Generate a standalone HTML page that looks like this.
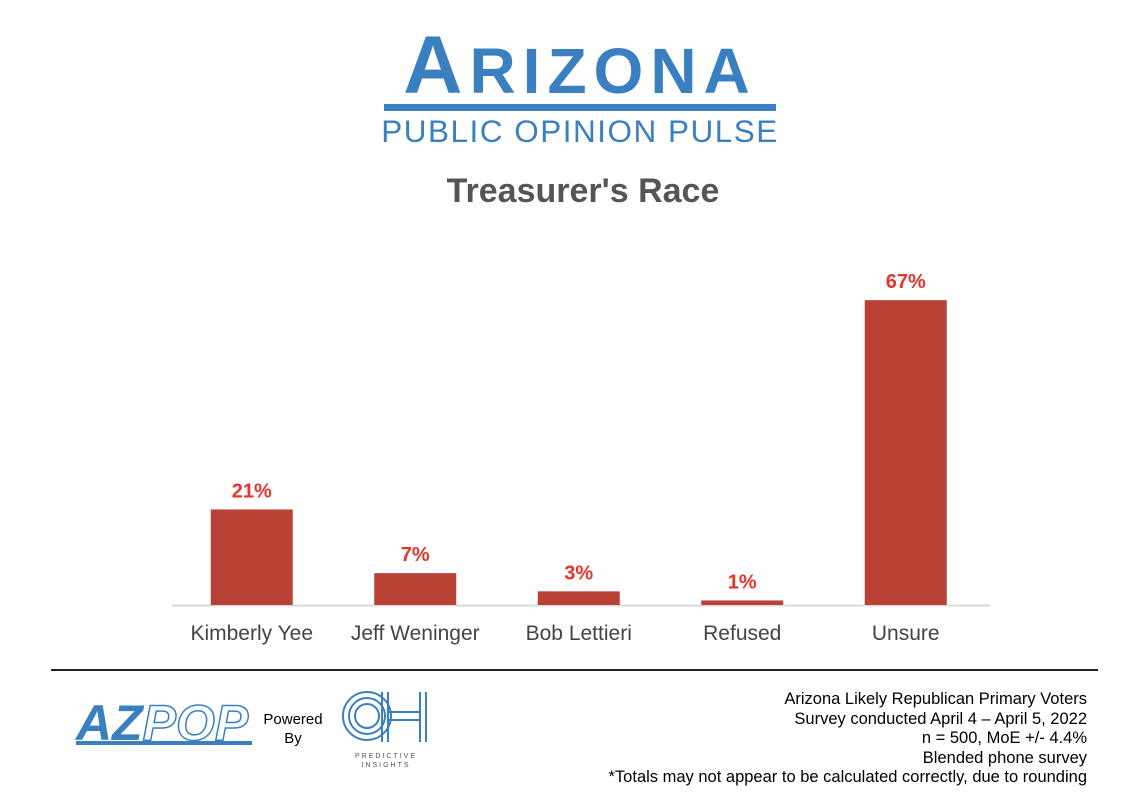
<!DOCTYPE html>
<html><head><meta charset="utf-8"><style>
body{margin:0;width:1148px;height:806px;background:#fff;overflow:hidden;font-family:"Liberation Sans",sans-serif;position:relative}
.abs{position:absolute}
</style></head><body>
<div class="abs" style="left:370px;top:26px;width:420px;text-align:center;font-size:82px;font-weight:bold;color:#3a80c0;letter-spacing:7px;line-height:80px">A<span style="font-size:64px">RIZONA</span></div>
<div class="abs" style="left:384px;top:104px;width:392px;height:7px;background:#3a80c0"></div>
<div class="abs" style="left:370px;top:113px;width:420px;text-align:center;font-size:31.5px;color:#3a80c0;letter-spacing:1.5px">PUBLIC OPINION PULSE</div>
<div class="abs" style="left:0;top:172px;width:1166px;text-align:center;font-size:34px;font-weight:bold;color:#555">Treasurer's Race</div>
<svg class="abs" style="left:0;top:0" width="1148" height="806" id="chart"></svg>
<div class="abs" style="left:51px;top:669px;width:1047px;height:2px;background:#222"></div>
<div class="abs" style="left:76px;top:700px;font-size:50px;font-weight:bold;color:#3a80c0;font-style:italic;line-height:46px">AZ<span style="color:#fff;-webkit-text-stroke:1.5px #3a80c0">POP</span></div>
<div class="abs" style="left:76px;top:741px;width:176px;height:4px;background:#3a80c0"></div>
<div class="abs" style="left:258px;top:710px;width:70px;text-align:center;font-size:15px;line-height:19px;color:#000">Powered<br>By</div>
<svg class="abs" style="left:340px;top:690px" width="92" height="80">
<g fill="none" stroke="#3a80c0" stroke-width="2"><circle cx="27" cy="26" r="24"/><circle cx="27" cy="26" r="18"/><circle cx="27" cy="26" r="12"/>
<path d="M42 2v50M48 2v50M86 2v50M80 2v50M48 22h32M48 30h32"/></g>
<text x="46" y="68" font-size="7" text-anchor="middle" fill="#555" letter-spacing="2">PREDICTIVE</text>
<text x="46" y="77" font-size="7" text-anchor="middle" fill="#555" letter-spacing="2">INSIGHTS</text></svg>
<div class="abs" style="right:61px;top:690px;text-align:right;font-size:16.5px;line-height:19.5px;color:#000">Arizona Likely Republican Primary Voters<br>Survey conducted April 4 – April 5, 2022<br>n = 500, MoE +/- 4.4%<br>Blended phone survey<br>*Totals may not appear to be calculated correctly, due to rounding</div>
<script>
const categories=["Kimberly Yee","Jeff Weninger","Bob Lettieri","Refused","Unsure"];
const values=[21,7,3,1,67];
const labels=["21%","7%","3%","1%","67%"];
const svg=document.getElementById('chart');const NS='http://www.w3.org/2000/svg';
const x0=170,step=163.5,base=605,k=4.55,bw=82;
function xc(i){return x0+step*(i+0.5);}
function y(v){return base-v*k;}
const ax=document.createElementNS(NS,'line');
ax.setAttribute('x1',172);ax.setAttribute('x2',990);ax.setAttribute('y1',base+0.5);ax.setAttribute('y2',base+0.5);ax.setAttribute('stroke','#d9d9d9');ax.setAttribute('stroke-width',2);


svg.appendChild(ax);
categories.forEach((c,i)=>{
 const r=document.createElementNS(NS,'rect');
 r.setAttribute('x',xc(i)-bw/2);r.setAttribute('y',y(values[i]));r.setAttribute('width',bw);r.setAttribute('height',values[i]*k);r.setAttribute('fill','#b94135');
 
 
 svg.appendChild(r);
 const t=document.createElementNS(NS,'text');
 t.setAttribute('x',xc(i));t.setAttribute('y',y(values[i])-12);t.setAttribute('text-anchor','middle');t.setAttribute('font-size','20');t.setAttribute('font-weight','bold');t.setAttribute('fill','#e8342a');t.setAttribute('font-family','Liberation Sans, sans-serif');
 t.textContent=labels[i];
 
 
 svg.appendChild(t);
 const l=document.createElementNS(NS,'text');
 l.setAttribute('x',xc(i));l.setAttribute('y',640);l.setAttribute('text-anchor','middle');l.setAttribute('font-size','21');l.setAttribute('fill','#444');l.setAttribute('font-family','Liberation Sans, sans-serif');
 l.textContent=c;
 
 
 svg.appendChild(l);
});
</script>
</body></html>
